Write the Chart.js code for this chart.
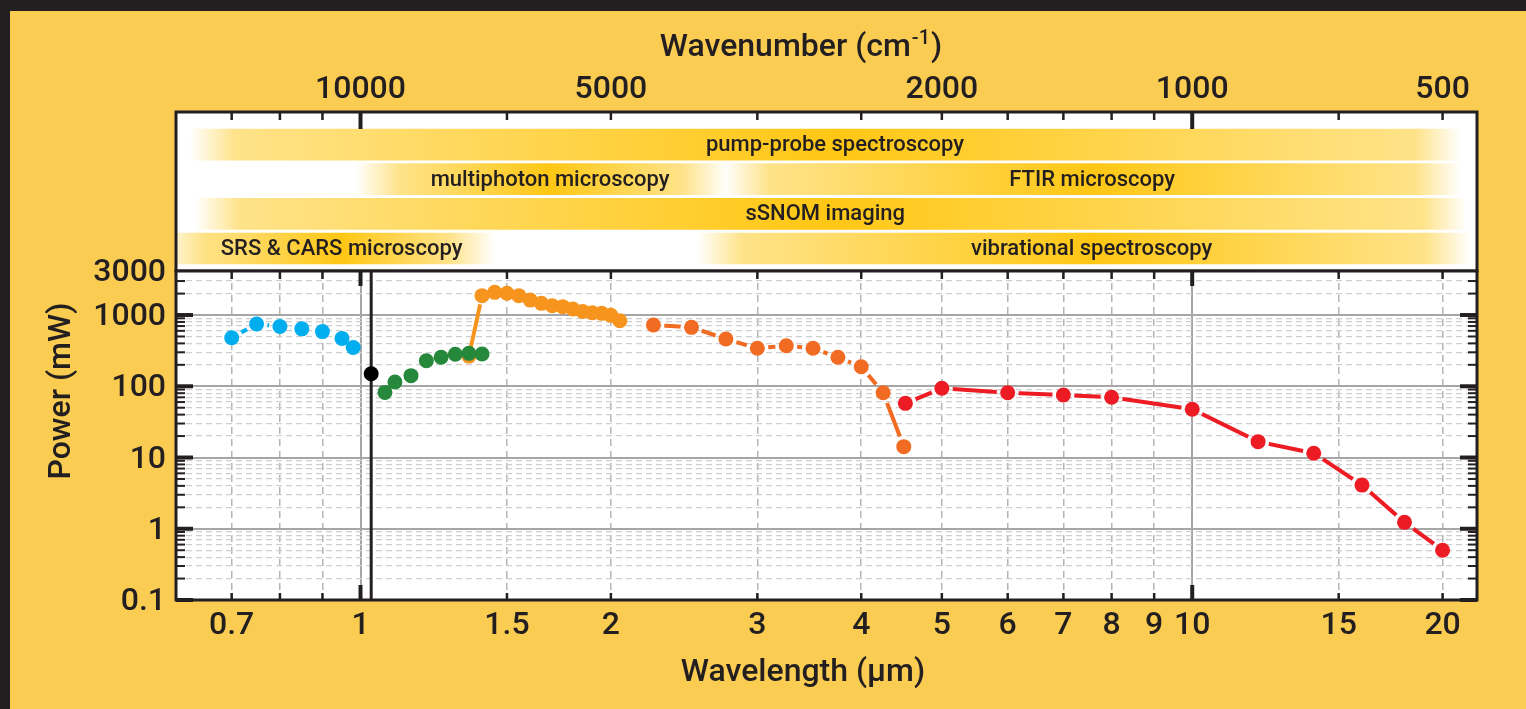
<!DOCTYPE html>
<html>
<head>
<meta charset="utf-8">
<title>Laser output power vs wavelength</title>
<script src="https://cdn.jsdelivr.net/npm/chart.js@4.4.1/dist/chart.umd.min.js"></script>
<style>
  html, body { margin: 0; padding: 0; background: #231F20; }
  #frame { position: absolute; left: 10px; top: 11px; width: 1516px; height: 698px; background: #FACC52; overflow: hidden; }
  #frame canvas { position: absolute; left: 0; top: 0; }
</style>
</head>
<body>
<div id="frame">
  <canvas id="bands" width="1516" height="698"></canvas>
  <canvas id="power" width="1516" height="698"></canvas>
</div>
<script>
// wavelength in µm, power in mW
const blueX = [0.70, 0.75, 0.80, 0.85, 0.90, 0.95, 0.98];
const blueY = [480, 750, 690, 640, 585, 470, 350];
const blackX = [1.03];
const blackY = [150];
const greenX = [1.07, 1.10, 1.15, 1.20, 1.25, 1.30, 1.35, 1.40];
const greenY = [82, 115, 141, 228, 255, 281, 290, 284];
const orangeX = [1.35, 1.40, 1.45, 1.50, 1.55, 1.60, 1.65, 1.70, 1.75, 1.80, 1.85, 1.90, 1.95, 2.00, 2.05];
const orangeY = [265, 1870, 2080, 2020, 1870, 1620, 1460, 1350, 1310, 1215, 1125, 1075, 1055, 990, 830];
const darkOrangeX = [2.25, 2.50, 2.75, 3.00, 3.25, 3.50, 3.75, 4.00, 4.25, 4.50];
const darkOrangeY = [724, 672, 461, 341, 371, 341, 255, 188, 81, 14.2];
const redX = [4.52, 5, 6, 7, 8, 10, 12, 14, 16, 18, 20];
const redY = [57.6, 93.6, 81.2, 75.4, 70, 47.5, 16.7, 11.5, 4.1, 1.23, 0.50];

// axes
const xMin = 0.6, xMax = 22, yMin = 0.1, yMax = 4150;
const xTicks = [0.7, 0.8, 0.9, 1, 1.5, 2, 3, 4, 5, 6, 7, 8, 9, 10, 15, 20];
const xTickLabels = ['0.7', '', '', '1', '1.5', '2', '3', '4', '5', '6', '7', '8', '9', '10', '15', '20'];
const xMajor = [1, 10];
const wavenumberTicks = [10000, 5000, 2000, 1000, 500];
const yDecades = [0.1, 1, 10, 100, 1000];
const yTickLabels = ['0.1', '1', '10', '100', '1000'];
const yTopLabel = '3000';

// application bands (µm)
const bandNames = ['pump-probe spectroscopy', 'multiphoton microscopy', 'FTIR microscopy', 'sSNOM imaging', 'SRS & CARS microscopy', 'vibrational spectroscopy'];
const bandRows = [1, 2, 2, 3, 4, 4];
const bandFrom = [0.624, 0.985, 2.74, 0.632, 0.57, 2.54];
const bandTo = [21.0, 2.76, 21.0, 21.4, 1.45, 21.6];
const bandText = [3.72, 1.69, 7.58, 3.62, 0.949, 7.57];

const ink = '#231F20';
const fontFam = 'Roboto, "Noto Sans", sans-serif';
Chart.defaults.font.family = fontFam;

const gold = a => 'rgba(255,199,20,' + a + ')';

function bandFill(c) {
  const chart = c.chart;
  const xs = chart.scales.x;
  if (!chart.chartArea || !xs || c.dataIndex === undefined) return gold(0);
  const i = c.dataIndex;
  const x0 = xs.getPixelForValue(bandFrom[i]);
  const x1 = xs.getPixelForValue(bandTo[i]);
  const w = x1 - x0;
  const fade = Math.min(0.25, 45 / w);
  let pk = (xs.getPixelForValue(bandText[i]) - x0) / w;
  pk = Math.max(fade + 0.01, Math.min(1 - fade - 0.01, pk));
  const g = chart.ctx.createLinearGradient(x0, 0, x1, 0);
  g.addColorStop(0, gold(0));
  g.addColorStop(fade, gold(0.5));
  g.addColorStop(pk, gold(1));
  g.addColorStop(1 - fade, gold(0.5));
  g.addColorStop(1, gold(0));
  return g;
}

function line(ctx, x1, y1, x2, y2) {
  ctx.beginPath();
  ctx.moveTo(x1, y1);
  ctx.lineTo(x2, y2);
  ctx.stroke();
}

// white plot box, black frame and inner tick marks
const boxPlugin = {
  id: 'box',
  beforeDraw(chart) {
    const a = chart.chartArea;
    chart.ctx.save();
    chart.ctx.fillStyle = '#fff';
    chart.ctx.fillRect(a.left, a.top, a.width, a.height);
    chart.ctx.restore();
  },
  afterDraw(chart, args, opts) {
    const ctx = chart.ctx, a = chart.chartArea;
    const xs = chart.scales.x, ys = chart.scales.y;
    ctx.save();
    ctx.strokeStyle = ink;
    xTicks.forEach(v => {
      const px = xs.getPixelForValue(v);
      const major = xMajor.includes(v);
      ctx.lineWidth = major ? 4 : 2.5;
      if (opts.top) line(ctx, px, a.top, px, a.top + (major ? opts.topMajor : 8));
      if (opts.bottom) line(ctx, px, a.bottom, px, a.bottom - (major ? 15 : 7));
    });
    if (opts.sides) {
      ys.ticks.forEach(t => {
        if (t.value >= yMax) return;
        const py = ys.getPixelForValue(t.value);
        const major = yDecades.includes(t.value);
        const len = major ? 17 : 9;
        ctx.lineWidth = major ? 4 : 2;
        line(ctx, a.left, py, a.left + len, py);
        line(ctx, a.right, py, a.right - len, py);
      });
    }
    ctx.lineWidth = 3;
    ctx.strokeRect(a.left, a.top, a.width, a.height);
    ctx.restore();
  }
};

// band captions and the wavenumber title
const bandTextPlugin = {
  id: 'bandText',
  afterDatasetsDraw(chart) {
    const ctx = chart.ctx, xs = chart.scales.x, ys = chart.scales.y;
    ctx.save();
    ctx.fillStyle = ink;
    ctx.font = '500 22px ' + fontFam;
    ctx.textAlign = 'center';
    ctx.textBaseline = 'middle';
    bandNames.forEach((n, i) => {
      ctx.fillText(n, xs.getPixelForValue(bandText[i]), ys.getPixelForValue(bandRows[i]) + 1);
    });
    ctx.restore();
  },
  afterDraw(chart) {
    const ctx = chart.ctx;
    ctx.save();
    ctx.fillStyle = ink;
    ctx.textBaseline = 'middle';
    ctx.textAlign = 'left';
    const big = '500 32px ' + fontFam, small = '500 20px ' + fontFam;
    const a = 'Wavenumber (cm', b = '-1', c = ')';
    ctx.font = big;
    const wa = ctx.measureText(a).width, wc = ctx.measureText(c).width;
    ctx.font = small;
    const wb = ctx.measureText(b).width;
    let x = 790 - (wa + wb + wc) / 2;
    const y = 37;
    ctx.font = big; ctx.fillText(a, x, y); x += wa;
    ctx.font = small; ctx.fillText(b, x + 1, y - 9); x += wb + 2;
    ctx.font = big; ctx.fillText(c, x, y);
    ctx.restore();
  }
};

// solid lines that stop short of each marker
const gapPlugin = {
  id: 'gaps',
  beforeDatasetDraw(chart, args) {
    const ctx = chart.ctx;
    const ds = chart.data.datasets[args.index];
    ctx.save();
    if (!ds.gapRadius) return;
    const a = chart.chartArea;
    args.meta.data.forEach(p => {
      ctx.beginPath();
      ctx.rect(a.left - 20, a.top - 20, a.width + 40, a.height + 40);
      ctx.moveTo(p.x + ds.gapRadius, p.y);
      ctx.arc(p.x, p.y, ds.gapRadius, 0, Math.PI * 2);
      ctx.clip('evenodd');
    });
  },
  afterDatasetDraw(chart, args) {
    chart.ctx.restore();
    const ds = chart.data.datasets[args.index];
    if (ds.gapRadius) args.meta.data.forEach(p => p.draw(chart.ctx, chart.chartArea));
  }
};

const titlePlugin = {
  id: 'titles',
  afterDraw(chart) {
    const ctx = chart.ctx;
    ctx.save();
    ctx.fillStyle = ink;
    ctx.font = '500 32px ' + fontFam;
    ctx.textAlign = 'center';
    ctx.textBaseline = 'middle';
    ctx.fillText('Wavelength (µm)', 793, 662);
    ctx.translate(52, 380);
    ctx.rotate(-Math.PI / 2);
    ctx.fillText('Power (mW)', 0, 0);
    ctx.restore();
  }
};

const tickFont = { size: 32, weight: '500' };

new Chart(document.getElementById('bands'), {
  type: 'bar',
  data: {
    datasets: [{
      data: bandNames.map((n, i) => ({ x: [bandFrom[i], bandTo[i]], y: bandRows[i] })),
      backgroundColor: bandFill,
      borderWidth: 0,
      barThickness: 31
    }]
  },
  options: {
    indexAxis: 'y',
    responsive: false,
    animation: false,
    events: [],
    layout: { padding: { left: 166, right: 49, top: 0, bottom: 438 } },
    plugins: { legend: { display: false }, tooltip: { enabled: false }, box: { top: true, topMajor: 17 } },
    scales: {
      x: {
        type: 'logarithmic', position: 'top', min: xMin, max: xMax,
        afterFit: s => { s.height = 101; },
        afterBuildTicks: s => { s.ticks = xTicks.map(v => ({ value: v })); },
        grid: { display: false, drawTicks: false },
        border: { display: false },
        ticks: {
          autoSkip: false, maxRotation: 0, minRotation: 0, padding: 3, color: ink, font: tickFont,
          callback: v => {
            const k = wavenumberTicks.findIndex(w => Math.abs(1e4 / w - v) < 1e-9);
            return k < 0 ? '' : String(wavenumberTicks[k]);
          }
        }
      },
      y: { type: 'linear', display: false, offset: false, reverse: true, min: 0.06, max: 4.65 }
    }
  },
  plugins: [boxPlugin, bandTextPlugin]
});

const yGridValues = [];
yDecades.forEach(d => {
  yGridValues.push(d);
  const ks = d < 1000 ? [2, 3, 4, 5, 6, 7, 8, 9] : [2, 3];
  ks.forEach(k => yGridValues.push(+(d * k).toPrecision(3)));
});
yGridValues.push(yMax);

function pts(xs, ys) {
  return xs.map((x, i) => ({ x: x, y: ys[i] }));
}

function series(label, xs, ys, color, lineOn, gap) {
  return {
    label: label,
    data: pts(xs, ys),
    showLine: lineOn,
    borderColor: color,
    backgroundColor: color,
    borderWidth: 4,
    pointRadius: 7.5,
    pointHoverRadius: 7.5,
    pointBorderWidth: 0,
    gapRadius: gap
  };
}

const gridX = c => c.tick && xMajor.includes(c.tick.value);
const gridY = c => c.tick && yDecades.includes(c.tick.value);

new Chart(document.getElementById('power'), {
  type: 'scatter',
  data: {
    datasets: [
      series('1.03 µm', blackX, blackY, '#000000', false, 0),
      series('1.07-1.4 µm', greenX, greenY, '#26883A', true, 11),
      series('0.7-0.98 µm', blueX, blueY, '#00AEEF', true, 11),
      series('4.5-20 µm', redX, redY, '#ED1C24', true, 11),
      series('2.25-4.5 µm', darkOrangeX, darkOrangeY, '#F26B22', true, 11),
      series('1.35-2.05 µm', orangeX, orangeY, '#F7941D', true, 9),
      {
        label: 'pump',
        data: pts([blackX[0], blackX[0]], [yMin, yMax]),
        showLine: true, borderColor: ink, borderWidth: 3, pointRadius: 0, gapRadius: 0
      }
    ]
  },
  options: {
    responsive: false,
    animation: false,
    events: [],
    layout: { padding: { left: 0, right: 49, top: 260, bottom: 0 } },
    plugins: { legend: { display: false }, tooltip: { enabled: false }, box: { top: true, bottom: true, sides: true, topMajor: 15 } },
    scales: {
      x: {
        type: 'logarithmic', position: 'bottom', min: xMin, max: xMax,
        afterFit: s => { s.height = 109; },
        afterBuildTicks: s => { s.ticks = xTicks.map(v => ({ value: v })); },
        grid: {
          drawTicks: false,
          color: c => gridX(c) ? '#A6A6A6' : '#B4B4B4',
          lineWidth: c => gridX(c) ? 2 : 1.5
        },
        border: { display: false, dash: c => (c.tick && !gridX(c)) ? [7, 5] : [] },
        ticks: {
          autoSkip: false, maxRotation: 0, minRotation: 0, padding: 7, color: ink, font: tickFont,
          callback: (v, i) => xTickLabels[i]
        }
      },
      y: {
        type: 'logarithmic', min: yMin, max: yMax,
        afterFit: s => { s.width = 166; },
        afterBuildTicks: s => { s.ticks = yGridValues.map(v => ({ value: v })); },
        grid: {
          drawTicks: false,
          color: c => gridY(c) ? '#A6A6A6' : '#CFCFCF',
          lineWidth: c => (c.tick && c.tick.value >= yMax) ? 0 : (gridY(c) ? 2 : 1.2)
        },
        border: { display: false, dash: c => (c.tick && !gridY(c)) ? [6, 4] : [] },
        ticks: {
          autoSkip: false, padding: 10, labelOffset: 2, color: ink, font: tickFont,
          callback: v => {
            if (v >= yMax) return yTopLabel;
            const k = yDecades.indexOf(v);
            return k < 0 ? '' : yTickLabels[k];
          }
        }
      }
    }
  },
  plugins: [boxPlugin, gapPlugin, titlePlugin]
});
</script>
</body>
</html>
